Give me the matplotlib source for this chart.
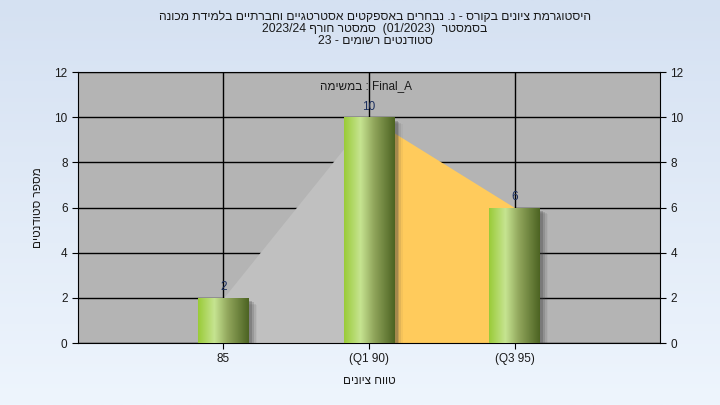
import re

import matplotlib
matplotlib.use('Agg')
import matplotlib.pyplot as plt
import numpy as np
from matplotlib.colors import LinearSegmentedColormap
from matplotlib.patches import Rectangle

plt.rcParams['font.family'] = ['Liberation Sans', 'DejaVu Sans']

# data
categories = ['85', '(Q1 90)', '(Q3 95)']
counts = [2, 10, 6]
title_lines = [
    'היסטוגרמת ציונים בקורס - נ. נבחרים באספקטים אסטרטגיים וחברתיים בלמידת מכונה',
    'בסמסטר  (01/2023)  סמסטר חורף 2023/24',
    'סטודנטים רשומים - 23',
]
task_label = 'Final_A : במשימה'
x_title = 'טווח ציונים'
y_title = 'מספר סטודנטים'
area_colors = ['#C0C0C0', '#FFCB5C']

MIRROR = {'(': ')', ')': '('}


def visual(s):
    # matplotlib draws glyphs left to right, so lay out the RTL line by hand:
    # reverse everything except runs of latin letters / digits
    tokens = re.findall(r'[A-Za-z0-9_/]+(?:\.[A-Za-z0-9_/]+)*|.', s)
    return ''.join(MIRROR.get(t, t) for t in reversed(tokens))


fig = plt.figure(figsize=(7.2, 4.05), dpi=100)

# background gradient
bg = fig.add_axes([0, 0, 1, 1], zorder=-10)
grad = np.linspace(0, 1, 256).reshape(-1, 1)
bg_cmap = LinearSegmentedColormap.from_list('bg', ['#D5E1F2', '#EEF5FD'])
bg.imshow(grad, aspect='auto', cmap=bg_cmap, extent=[0, 1, 0, 1])
bg.axis('off')

ax = fig.add_axes([0.1083, 0.153, 0.8084, 0.669])
ax.set_facecolor('#B4B4B4')
x = np.arange(len(counts))

# area behind the bars
for i in range(len(counts) - 1):
    ax.fill_between([x[i], x[i + 1]], [counts[i], counts[i + 1]],
                    color=area_colors[i], lw=0, zorder=2)

# grid
ax.set_yticks(range(0, 13, 2))
ax.set_xticks(x)
ax.grid(True, color='black', lw=1, zorder=1)
ax.set_axisbelow(True)

# bars with cylinder gradient
bar_w = 0.35
bar_cmap = LinearSegmentedColormap.from_list(
    'bar', [(0, '#9ACB38'), (0.32, '#C6E491'), (0.6, '#8FA45A'), (1, '#4C6322')])
hgrad = np.linspace(0, 1, 128).reshape(1, -1)
for xi, v in zip(x, counts):
    # shadow
    for k, a in enumerate([0.25, 0.18, 0.1, 0.05]):
        ax.add_patch(Rectangle((xi + bar_w / 2, 0), 0.012 * (k + 1) + 0.01,
                               v - 0.15 - 0.05 * k, color='#404040',
                               alpha=a, lw=0, zorder=3))
    im = ax.imshow(hgrad, aspect='auto', cmap=bar_cmap,
                   extent=[xi - bar_w / 2, xi + bar_w / 2, 0, v], zorder=4)
    rect = Rectangle((xi - bar_w / 2, 0), bar_w, v, transform=ax.transData,
                     fill=False, lw=0)
    ax.add_patch(rect)
    im.set_clip_path(rect)
    ax.text(xi, v + 0.2, str(v), ha='center', va='bottom', fontsize=8.5,
            color='#1C2F5E', zorder=6)

ax.set_xlim(-1, 3)
ax.set_ylim(0, 12)
ax.set_xticklabels(categories)
ax.tick_params(axis='both', labelsize=8.5, colors='black', length=4,
               labelcolor='#1A1A1A')
ax.tick_params(axis='y', right=True, labelright=True)
for s in ax.spines.values():
    s.set_color('black')

ax.text(0.98, 11.4, visual(task_label), ha='center', va='center',
        fontsize=8.5, color='#1A1A1A', zorder=6)

ax.set_xlabel(visual(x_title), fontsize=8.5, color='#1A1A1A', labelpad=7)
ax.set_ylabel(visual(y_title), fontsize=8.5, color='#1A1A1A', rotation=90,
              va='center', labelpad=12)

for i, line in enumerate(title_lines):
    fig.text(0.521, 0.958 - 0.03 * i, visual(line), ha='center', va='center',
             fontsize=8.7, color='#1A1A1A')

fig.savefig('out.png', dpi=100)
